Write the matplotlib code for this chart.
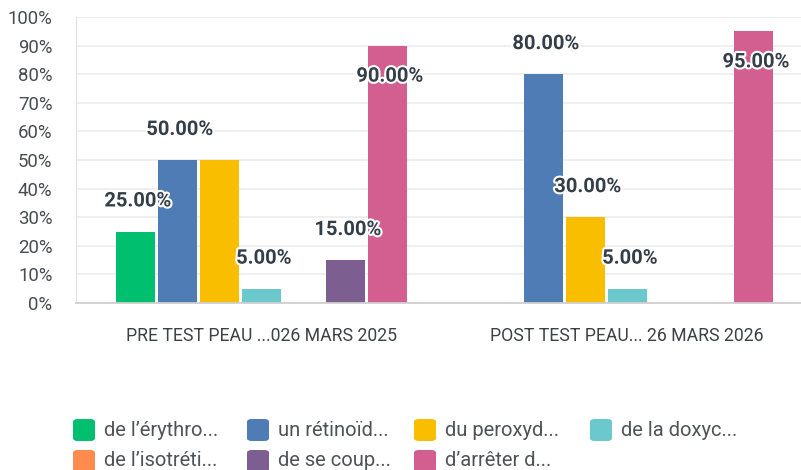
import numpy as np
import matplotlib.pyplot as plt
import matplotlib.patheffects as pe
from matplotlib.patches import FancyBboxPatch

categories = ['PRE TEST PEAU ...026 MARS 2025', 'POST TEST PEAU... 26 MARS 2026']

series_names = [
    'de l\u2019érythro...',
    'un rétinoïd...',
    'du peroxyd...',
    'de la doxyc...',
    'de l\u2019isotréti...',
    'de se coup...',
    'd\u2019arrêter d...',
]
erythro = [25, 0]
retinoide = [50, 80]
peroxyde = [50, 30]
doxycycline = [5, 5]
isotretinoine = [0, 0]
se_couper = [15, 0]
arreter = [90, 95]

colors = ['#00bf6f', '#507cb6', '#f9be00', '#6bc8cd', '#ff8b4f', '#7d5e90', '#d25f90']
values = [erythro, retinoide, peroxyde, doxycycline, isotretinoine, se_couper, arreter]

plt.rcParams['font.family'] = ['Roboto', 'DejaVu Sans']

fig = plt.figure(figsize=(8.01, 4.70), dpi=100)
ax = fig.add_axes([76 / 801, 1 - 303 / 470, 1 - 76 / 801, (303 - 17) / 470])

n = len(values)
x = np.arange(len(categories))
step = 42 / 366
width = 39 / 366

label_fx = [pe.withStroke(linewidth=3, foreground='white')]
for ci in range(len(categories)):
    last_val = None
    for si in range(n):
        xpos = x[ci] + (si - (n - 1) / 2) * step
        v = values[si][ci]
        ax.bar(xpos, v, width=width, color=colors[si], zorder=2)
        if v == 0:
            continue
        if v == last_val:
            # same height as the label just before: hidden (overlap)
            continue
        last_val = v
        if v > 85:
            ax.annotate(f'{v:.2f}%', (xpos, v), xytext=(2, -22), textcoords='offset points',
                        ha='center', va='center', fontsize=14.5, fontweight='bold',
                        color='#333e48', path_effects=label_fx, zorder=4)
        else:
            ax.annotate(f'{v:.2f}%', (xpos, v), xytext=(2, 22), textcoords='offset points',
                        ha='center', va='center', fontsize=14.5, fontweight='bold',
                        color='#333e48', path_effects=label_fx, zorder=4)

ax.set_xlim(-0.5055, 1.475)
ax.set_ylim(0, 100)
ax.set_yticks(np.arange(0, 101, 10))
ax.set_yticklabels([f'{t}%' for t in range(0, 101, 10)])
ax.set_xticks(x)
ax.set_xticklabels(categories)
ax.tick_params(axis='y', length=0, pad=17, labelsize=13.4, labelcolor='#4a4d50')
ax.tick_params(axis='x', length=0, pad=17, labelsize=12.7, labelcolor='#3c4146')
ax.grid(axis='y', color='#ececec', linewidth=1.2, zorder=0)
for s in ['top', 'right']:
    ax.spines[s].set_visible(False)
ax.spines['left'].set_color('#e0e0e0')
ax.spines['bottom'].set_color('#cfcfcf')
ax.spines['bottom'].set_linewidth(1.3)

# legend, two rows of four
col_x = [73, 247, 414, 590]
row_y = [430, 461]
for i, name in enumerate(series_names):
    cx = col_x[i % 4]
    cy = row_y[i // 4]
    box = FancyBboxPatch((cx / 801, 1 - (cy + 11) / 470), 22 / 801, 22 / 470,
                         boxstyle='round,pad=0,rounding_size=0.006',
                         transform=fig.transFigure, facecolor=colors[i], edgecolor='none')
    fig.patches.append(box)
    fig.text((cx + 31) / 801, 1 - cy / 470, name, ha='left', va='center',
             fontsize=14.5, color='#4f5357')

fig.savefig('out.png', dpi=100)
